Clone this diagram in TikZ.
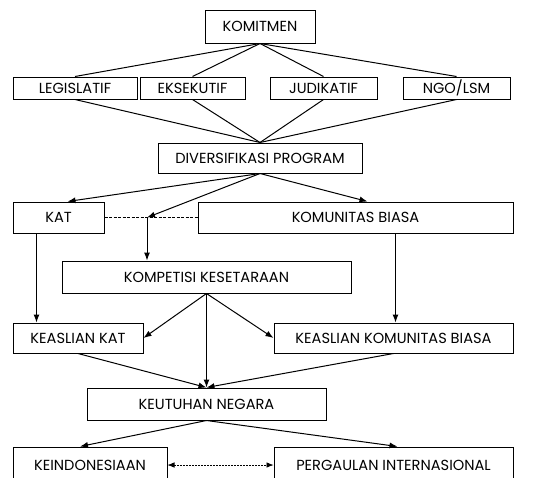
\documentclass[tikz,border=0pt]{standalone}
\usepackage{fontspec}
\setmainfont{Poppins}
\usepackage{tikz}
\usetikzlibrary{arrows.meta,positioning,calc}

\begin{document}
\begin{tikzpicture}[x=1pt,y=-1pt,font=\fontsize{14.6}{16}\selectfont,
  box/.style={draw,line width=1pt,inner sep=0pt,minimum height=#1},
  box/.default=30pt,
  lin/.style={line width=1pt},
  arr/.style={-{Latex[length=8pt,width=6pt]},line width=1pt},
  dsh/.style={line width=1pt,dash pattern=on 3pt off 1.5pt},
  dbl/.style={{Latex[length=7pt,width=5.5pt]}-{Latex[length=7pt,width=5.5pt]},line width=0.6pt,dash pattern=on 2pt off 1pt}]
\useasboundingbox (0,0) rectangle (557,477);
% top: commitment and the four actors
\node[box=33pt,minimum width=110pt] (kom) at (260,26.5) {KOMITMEN};
\node[box=22pt,minimum width=124pt] (leg) at (75,88) {LEGISLATIF};
\node[box=22pt,minimum width=105pt] (eks) at (192.5,88) {EKSEKUTIF};
\node[box=22pt,minimum width=107pt] (jud) at (323.5,88) {JUDIKATIF};
\node[box=22pt,minimum width=107pt] (ngo) at (456.5,88) {NGO/LSM};
\node[box,minimum width=204pt] (div) at (260,158) {DIVERSIFIKASI PROGRAM};
\foreach \n in {leg,eks,jud,ngo}{
  \draw[lin] (kom.south) -- (\n.north);
  \draw[lin] (\n.south) -- (div.north);
}
% communities
\node[box=31pt,minimum width=91pt] (kat) at (58.5,217.5) {KAT};
\node[box=31pt,minimum width=315pt] (kb) at (355.5,217.5) {KOMUNITAS BIASA};
\node[box=32pt,minimum width=289pt] (kes) at (206.5,277) {KOMPETISI KESETARAAN};
\coordinate (j) at (147,217.5);
\draw[dsh] (kat.east) -- (kb.west);
\draw[arr] (div.south) -- ($(kat.north)+(9,0)$);
\draw[arr] (div.south) -- (j);
\draw[arr] (div.south) -- ($(kb.north)+(12,0)$);
\draw[arr] (j) -- (j |- kes.north);
% authenticity
\node[box,minimum width=130pt] (kk) at (78,338) {KEASLIAN KAT};
\node[box,minimum width=239pt] (kkb) at (393.5,338) {KEASLIAN KOMUNITAS BIASA};
\node[box=32pt,minimum width=239pt] (neg) at (206.5,404) {KEUTUHAN NEGARA};
\coordinate (ka) at ($(kat.south west)+(24,0)$);
\coordinate (kba) at ($(kb.south)+(40,0)$);
\draw[arr] (ka) -- (ka |- kk.north);
\draw[arr] (kba) -- (kba |- kkb.north);
\draw[arr] (kes.south) -- (kk.east);
\draw[arr] (kes.south) -- (kkb.west);
\draw[arr] (kes.south) -- (neg.north);
\draw[arr] (kk.south) -- (neg.north);
\draw[arr] (kkb.south) -- (neg.north);
% bottom row, cut by the lower edge
\node[box=36pt,minimum width=154pt] (ind) at (90,465) {KEINDONESIAAN};
\node[box=36pt,minimum width=239pt] (per) at (393.5,465) {PERGAULAN INTERNASIONAL};
\draw[arr] (neg.south) -- ($(ind.north)+(-10,0)$);
\draw[arr] (neg.south) -- ($(per.north)+(4,0)$);
\draw[dbl] (ind.east) -- (per.west);
\end{tikzpicture}
\end{document}
